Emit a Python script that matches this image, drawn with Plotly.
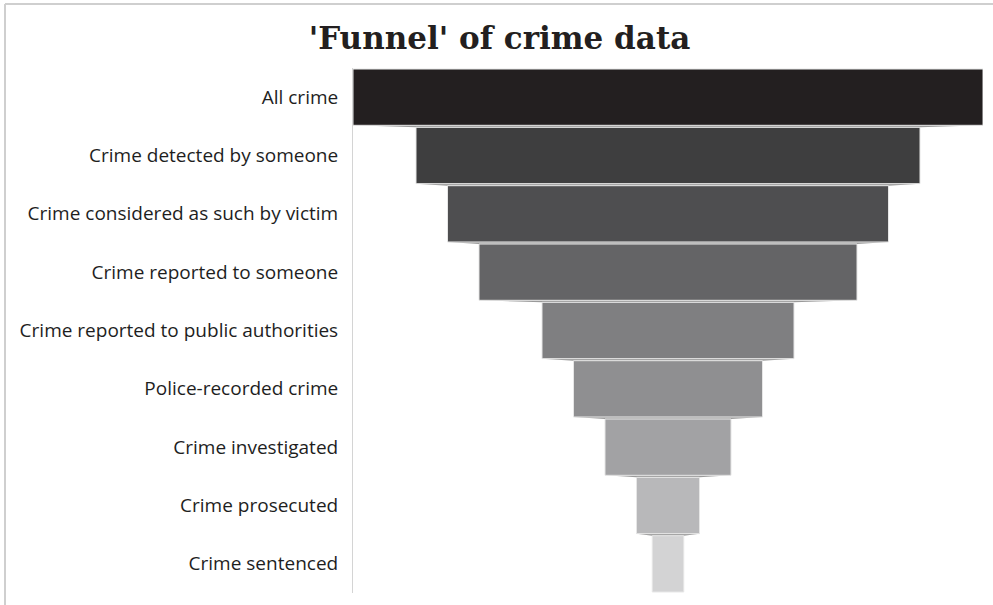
import plotly.graph_objects as go

stages = [
    "All crime",
    "Crime detected by someone",
    "Crime considered as such by victim",
    "Crime reported to someone",
    "Crime reported to public authorities",
    "Police-recorded crime",
    "Crime investigated",
    "Crime prosecuted",
    "Crime sentenced",
]
values = [100, 80, 70, 60, 40, 30, 20, 10, 5]
colors = ["#231f20", "#3e3e3f", "#4e4e50", "#646466", "#7f7f81",
          "#8f8f91", "#a2a2a4", "#b8b8ba", "#d3d3d4"]

W, H = 993, 605
L, R, T, B = 353, 10, 68, 12
pw, ph = W - L - R, H - T - B

fig = go.Figure(go.Funnel(
    y=stages,
    x=values,
    orientation="h",
    textinfo="none",
    hoverinfo="y+x",
    marker=dict(color=colors, line=dict(color="#e6e6e6", width=1)),
    connector=dict(fillcolor="#9a9a9a", line=dict(width=0)),
))

fig.update_layout(
    width=W, height=H,
    margin=dict(l=L, r=R, t=T, b=B, autoexpand=False),
    paper_bgcolor="white", plot_bgcolor="white",
    funnelgap=0.035,
    title=dict(
        text="<b>'Funnel' of crime data</b>",
        x=0.503, xanchor="center", y=1 - 38 / H, yanchor="middle",
        font=dict(family="DejaVu Serif", size=31, color="#231f20"),
    ),
    xaxis=dict(visible=False, range=[-max(values) / 2, max(values) / 2], fixedrange=True),
    yaxis=dict(
        showline=True, linecolor="#d4d4d4", linewidth=1,
        showgrid=False, ticks="", ticklabelstandoff=10,
        tickfont=dict(family="Open Sans", size=19, color="#1e1e1e"),
        fixedrange=True,
    ),
    showlegend=False,
    shapes=[
        dict(type="line", xref="paper", yref="paper",
             x0=(5 - L) / pw, x1=(W - L) / pw,
             y0=1 + (T - 4) / ph, y1=1 + (T - 4) / ph,
             line=dict(color="#cfcfcf", width=2)),
        dict(type="line", xref="paper", yref="paper",
             x0=(5 - L) / pw, x1=(5 - L) / pw,
             y0=1 + (T - 4) / ph, y1=-(B + 5) / ph,
             line=dict(color="#cfcfcf", width=2)),
    ],
)

fig.write_html(
    "out.html",
    config={"displayModeBar": False},
    post_script="document.body.style.margin='0';document.body.style.overflow='hidden';",
)
